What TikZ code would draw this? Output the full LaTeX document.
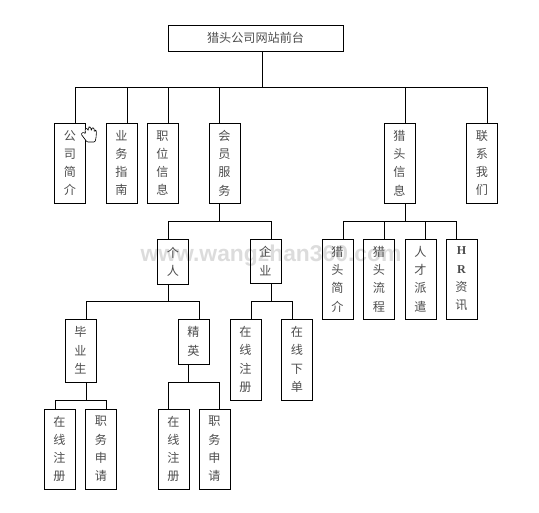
\documentclass[tikz,border=0pt]{standalone}
\usepackage{fontspec}
\setmainfont{Liberation Serif}
\newfontfamily\cjk{Noto Sans CJK SC}
\newfontfamily\markfont{Liberation Sans}
\usetikzlibrary{calc}
\definecolor{markgray}{RGB}{220,220,220}

\begin{document}
\begin{tikzpicture}[
  font=\cjk\fontsize{6.9}{10.4}\selectfont,
  block/.style={
    draw=black,
    line width=0.5pt,
    inner sep=0pt,
    minimum width=0.62cm,
    align=center,
    text=black!70
  },
  tall/.style={block,minimum height=1.6cm},
  link/.style={
    draw=black,
    line width=0.5pt
  }
]
\useasboundingbox (0,0) rectangle (10.78,-10.26);

% Watermark sits under everything
\node[text=markgray,inner sep=0pt,font=\markfont\bfseries\fontsize{13}{16}\selectfont] (watermark) at (5.42,-5.12) {www.wangzhan360.com};

% Top of the site
\node[block,minimum width=3.5cm,minimum height=0.52cm] (root) at (5.11,-0.76) {猎头公司网站前台};

\node[tall] (firm) at (1.40,-3.26) {公\\司\\简\\介};
\node[tall] (guide) at (2.43,-3.26) {业\\务\\指\\南};
\node[tall] (jobs) at (3.25,-3.26) {职\\位\\信\\息};
\node[tall] (member) at (4.49,-3.26) {会\\员\\服\\务};
\node[tall] (hunt) at (7.99,-3.26) {猎\\头\\信\\息};
\node[tall] (contact) at (9.64,-3.26) {联\\系\\我\\们};

% Member branch
\node[block,minimum height=0.9cm] (personal) at (3.46,-5.23) {个\\人};
\node[block,minimum height=0.88cm] (company) at (5.31,-5.22) {企\\业};

\node[block,minimum height=1.26cm] (graduate) at (1.61,-7.01) {毕\\业\\生};
\node[block,minimum height=0.9cm] (elite) at (3.87,-6.83) {精\\英};

\node[tall,minimum height=1.62cm] (compreg) at (4.91,-7.19) {在\\线\\注\\册};
\node[tall,minimum height=1.62cm] (comporder) at (5.94,-7.19) {在\\线\\下\\单};

\node[tall] (gradreg) at (1.19,-8.98) {在\\线\\注\\册};
\node[tall] (gradapply) at (2.02,-8.98) {职\\务\\申\\请};
\node[tall] (elitereg) at (3.47,-8.98) {在\\线\\注\\册};
\node[tall] (eliteapply) at (4.29,-8.98) {职\\务\\申\\请};

% Headhunting branch
\node[tall] (huntintro) at (6.75,-5.58) {猎\\头\\简\\介};
\node[tall] (huntflow) at (7.58,-5.58) {猎\\头\\流\\程};
\node[tall] (staffing) at (8.41,-5.58) {人\\才\\派\\遣};
\node[tall] (hrnews) at (9.23,-5.58) {{\rmfamily\bfseries H}\\{\rmfamily\bfseries R}\\资\\讯};

% Bus junctions
\coordinate (topbus) at (5.24,-1.74);
\coordinate (memberbus) at (4.38,-4.42);
\coordinate (huntbus) at (8.10,-4.42);
\coordinate (personalbus) at (3.36,-6.02);
\coordinate (companybus) at (5.42,-6.02);
\coordinate (gradbus) at (1.72,-8.00);
\coordinate (elitebus) at (3.76,-7.64);

% Connectors
\draw[link] (root.south -| topbus) -- (topbus);
\foreach \kid/\dx in {firm/0.10,guide/0.11,jobs/0.11,member/-0.11,hunt/0.11,contact/0.10}
  \draw[link] (topbus) -| ([xshift=\dx cm]\kid.north);

\draw[link] (member.south -| memberbus) -- (memberbus);
\foreach \kid/\dx in {personal/-0.10,company/0.11}
  \draw[link] (memberbus) -| ([xshift=\dx cm]\kid.north);

\draw[link] (hunt.south -| huntbus) -- (huntbus);
\foreach \kid/\dx in {huntintro/0.11,huntflow/0.10,staffing/0.09,hrnews/-0.11}
  \draw[link] (huntbus) -| ([xshift=\dx cm]\kid.north);

\draw[link] (personal.south -| personalbus) -- (personalbus);
\foreach \kid/\dx in {graduate/0.11,elite/0.11}
  \draw[link] (personalbus) -| ([xshift=\dx cm]\kid.north);

\draw[link] (company.south -| companybus) -- (companybus);
\foreach \kid/\dx in {compreg/0.11,comporder/-0.10}
  \draw[link] (companybus) -| ([xshift=\dx cm]\kid.north);

\draw[link] (graduate.south -| gradbus) -- (gradbus);
\foreach \kid/\dx in {gradreg/-0.09,gradapply/0.10}
  \draw[link] (gradbus) -| ([xshift=\dx cm]\kid.north);

\draw[link] (elite.south -| elitebus) -- (elitebus);
\foreach \kid/\dx in {elitereg/-0.11,eliteapply/0.09}
  \draw[link] (elitebus) -| ([xshift=\dx cm]\kid.north);

% Hand cursor
\draw[fill=white,line width=0.35pt,rounded corners=0.2mm] (1.62,-2.68) -- (1.67,-2.64) -- (1.71,-2.68) -- (1.70,-2.58) -- (1.74,-2.56) -- (1.765,-2.62) -- (1.77,-2.54) -- (1.81,-2.54) -- (1.83,-2.62) -- (1.84,-2.55) -- (1.88,-2.56) -- (1.885,-2.64) -- (1.90,-2.60) -- (1.93,-2.62) -- (1.92,-2.76) -- (1.90,-2.84) -- (1.74,-2.84) -- cycle;
\end{tikzpicture}
\end{document}
